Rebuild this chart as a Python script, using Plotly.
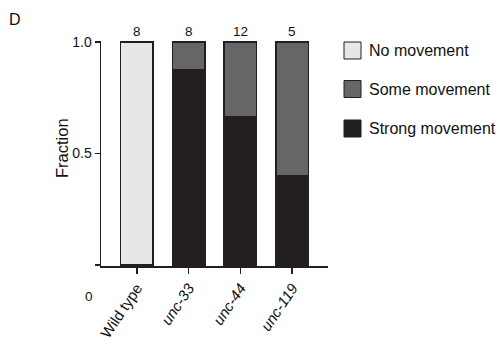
import plotly.graph_objects as go

# ---- data ----
categories = ["Wild type", "unc-33", "unc-44", "unc-119"]
tick_labels = ["Wild type", "<i>unc-33</i>", "<i>unc-44</i>", "<i>unc-119</i>"]
n_animals = [8, 8, 12, 5]
strong_movement = [None, 0.875, 0.667, 0.4]
some_movement = [None, 0.125, 0.333, 0.6]
no_movement = [1.0, None, None, None]
series_names = ["No movement", "Some movement", "Strong movement"]
series_colors = ["#e6e7e8", "#666666", "#231f20"]
y_tick_vals = [0, 0.5, 1.0]
y_tick_text = ["", "0.5", "1.0"]

FONT = "Liberation Sans, Arial, sans-serif"
INK = "#231f20"
TXT = "#111111"
W, H = 500, 341
L, T = 101, 41
PW, PH = 227, 225
R, B = W - L - PW, H - T - PH


def px_x(page_px):
    return (page_px - L) / PW


def px_y(page_py):
    return 1 - (page_py - T) / PH


def val(v):
    return 0 if v is None else v


fig = go.Figure()
stack = [
    (strong_movement, series_names[2], series_colors[2]),
    (some_movement, series_names[1], series_colors[1]),
    (no_movement, series_names[0], series_colors[0]),
]
for vals, name, col in stack:
    fig.add_trace(go.Bar(
        x=categories, y=vals, name=name, width=0.63,
        marker=dict(color=col, line=dict(color=INK, width=1.5)),
        showlegend=False,
    ))

totals = [val(a) + val(b) + val(c) for a, b, c in zip(strong_movement, some_movement, no_movement)]
annotations = []
for cat, tot, n in zip(categories, totals, n_animals):
    annotations.append(dict(
        x=cat, y=tot, xref="x", yref="y", text=str(n), showarrow=False,
        yanchor="bottom", yshift=1, font=dict(size=13.5, color=TXT, family=FONT),
    ))

# panel letter
annotations.append(dict(x=px_x(7), y=px_y(19), xref="paper", yref="paper", text="D",
                        showarrow=False, xanchor="left", yanchor="middle",
                        font=dict(size=16, color=TXT, family=FONT)))
# zero label
annotations.append(dict(x=px_x(88.5), y=px_y(296), xref="paper", yref="paper", text="0",
                        showarrow=False, xanchor="center", yanchor="middle",
                        font=dict(size=13.5, color=TXT, family=FONT)))
# y title
annotations.append(dict(x=px_x(62), y=px_y(148), xref="paper", yref="paper", text="Fraction",
                        showarrow=False, textangle=-90, xanchor="center", yanchor="middle",
                        font=dict(size=16.5, color=TXT, family=FONT)))

# legend (manual)
shapes = []
legend_rows = [(series_names[0], series_colors[0], 50.5),
               (series_names[1], series_colors[1], 89),
               (series_names[2], series_colors[2], 128.5)]
for name, col, cy in legend_rows:
    shapes.append(dict(type="rect", xref="paper", yref="paper",
                       x0=px_x(344), x1=px_x(361), y0=px_y(cy - 8.5), y1=px_y(cy + 8.5),
                       fillcolor=col, line=dict(color=INK, width=1)))
    annotations.append(dict(x=px_x(367), y=px_y(cy), xref="paper", yref="paper", text=name,
                            showarrow=False, xanchor="left", yanchor="middle",
                            font=dict(size=16, color=TXT, family=FONT)))

fig.update_layout(
    barmode="stack",
    width=W, height=H,
    margin=dict(l=L, r=R, t=T, b=B, pad=0, autoexpand=False),
    paper_bgcolor="white", plot_bgcolor="white",
    font=dict(family=FONT, color=TXT, size=13),
    annotations=annotations,
    shapes=shapes,
    xaxis=dict(
        range=[-0.69, 3.69], tickmode="array", tickvals=categories, ticktext=tick_labels,
        tickangle=-56, ticks="outside", ticklen=6, tickwidth=1.5, tickcolor=INK,
        showline=True, linecolor=INK, linewidth=1.5, showgrid=False, zeroline=False,
        tickfont=dict(size=15, family=FONT, color=TXT), automargin=False,
    ),
    yaxis=dict(
        range=[-0.005, 1.005], tickmode="array", tickvals=y_tick_vals, ticktext=y_tick_text,
        ticks="outside", ticklen=5, tickwidth=1.5, tickcolor=INK,
        showline=True, linecolor=INK, linewidth=1.5, showgrid=False, zeroline=False,
        tickfont=dict(size=14, family=FONT, color=TXT), automargin=False,
    ),
)

fig.write_html(
    "out.html",
    config={"displayModeBar": False, "staticPlot": True},
    post_script="document.body.style.margin='0';document.body.style.overflow='hidden';",
)
